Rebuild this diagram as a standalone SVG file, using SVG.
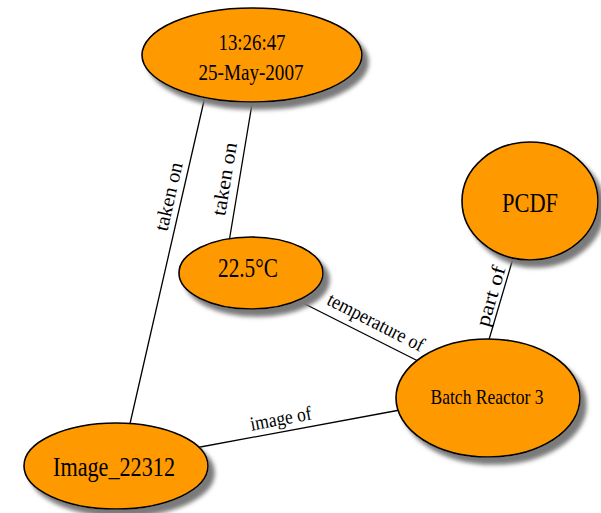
<svg xmlns="http://www.w3.org/2000/svg" width="601" height="513" viewBox="0 0 601 513">
<defs>
<filter id="sh" x="-20%" y="-20%" width="150%" height="160%">
<feGaussianBlur in="SourceAlpha" stdDeviation="2"/>
<feOffset dx="6" dy="7" result="b"/>
<feFlood flood-color="#7a7a7a"/>
<feComposite in2="b" operator="in"/>
<feMerge><feMergeNode/><feMergeNode in="SourceGraphic"/></feMerge>
</filter>
</defs>
<style>
.node ellipse{fill:#ff9900;stroke:#000;stroke-width:1.6;filter:url(#sh)}
.node text{font-family:"Liberation Serif","Times New Roman",serif;fill:#000;text-anchor:middle}
.edge line{stroke:#000;stroke-width:1.3}
.lbl{font-family:"Liberation Serif","Times New Roman",serif;font-size:20px;fill:#000;text-anchor:middle}
</style>
<rect width="601" height="513" fill="#fff"/>
<g id="connectors" class="edge">
<line x1="206" y1="92" x2="129" y2="428"/>
<line x1="253" y1="98" x2="229" y2="242"/>
<line x1="295" y1="299" x2="420" y2="362"/>
<line x1="195" y1="448" x2="400" y2="410"/>
<line x1="514" y1="255" x2="488" y2="343"/>
<text class="lbl" transform="translate(175,198) rotate(-77)" textLength="70" lengthAdjust="spacingAndGlyphs">taken on</text>
<text class="lbl" transform="translate(231,180) rotate(-80.5)" textLength="74" lengthAdjust="spacingAndGlyphs">taken on</text>
<text class="lbl" transform="translate(373,328) rotate(27)" textLength="106" lengthAdjust="spacingAndGlyphs">temperature of</text>
<text class="lbl" transform="translate(282,425) rotate(-10.5)" textLength="62" lengthAdjust="spacingAndGlyphs">image of</text>
<text class="lbl" transform="translate(497,298) rotate(-73.5)" textLength="62" lengthAdjust="spacingAndGlyphs">part of</text>
</g>
<g id="node-time" class="node">
<ellipse cx="252" cy="55" rx="110" ry="47"/>
<text x="252" y="50" font-size="24" textLength="67" lengthAdjust="spacingAndGlyphs">13:26:47</text>
<text x="251" y="80" font-size="24" textLength="105" lengthAdjust="spacingAndGlyphs">25-May-2007</text>
</g>
<g id="node-temp" class="node">
<ellipse cx="251" cy="273" rx="72" ry="36"/>
<text x="248" y="277" font-size="28" textLength="60" lengthAdjust="spacingAndGlyphs">22.5°C</text>
</g>
<g id="node-pcdf" class="node">
<ellipse cx="530" cy="201" rx="68" ry="59"/>
<text x="530" y="212" font-size="28" textLength="56" lengthAdjust="spacingAndGlyphs">PCDF</text>
</g>
<g id="node-batch" class="node">
<ellipse cx="488" cy="398" rx="92" ry="59"/>
<text x="487" y="404" font-size="21" textLength="113" lengthAdjust="spacingAndGlyphs">Batch Reactor 3</text>
</g>
<g id="node-image" class="node">
<ellipse cx="116" cy="466" rx="92" ry="43"/>
<text x="114" y="476" font-size="28" textLength="122" lengthAdjust="spacingAndGlyphs">Image_22312</text>
</g>
</svg>
